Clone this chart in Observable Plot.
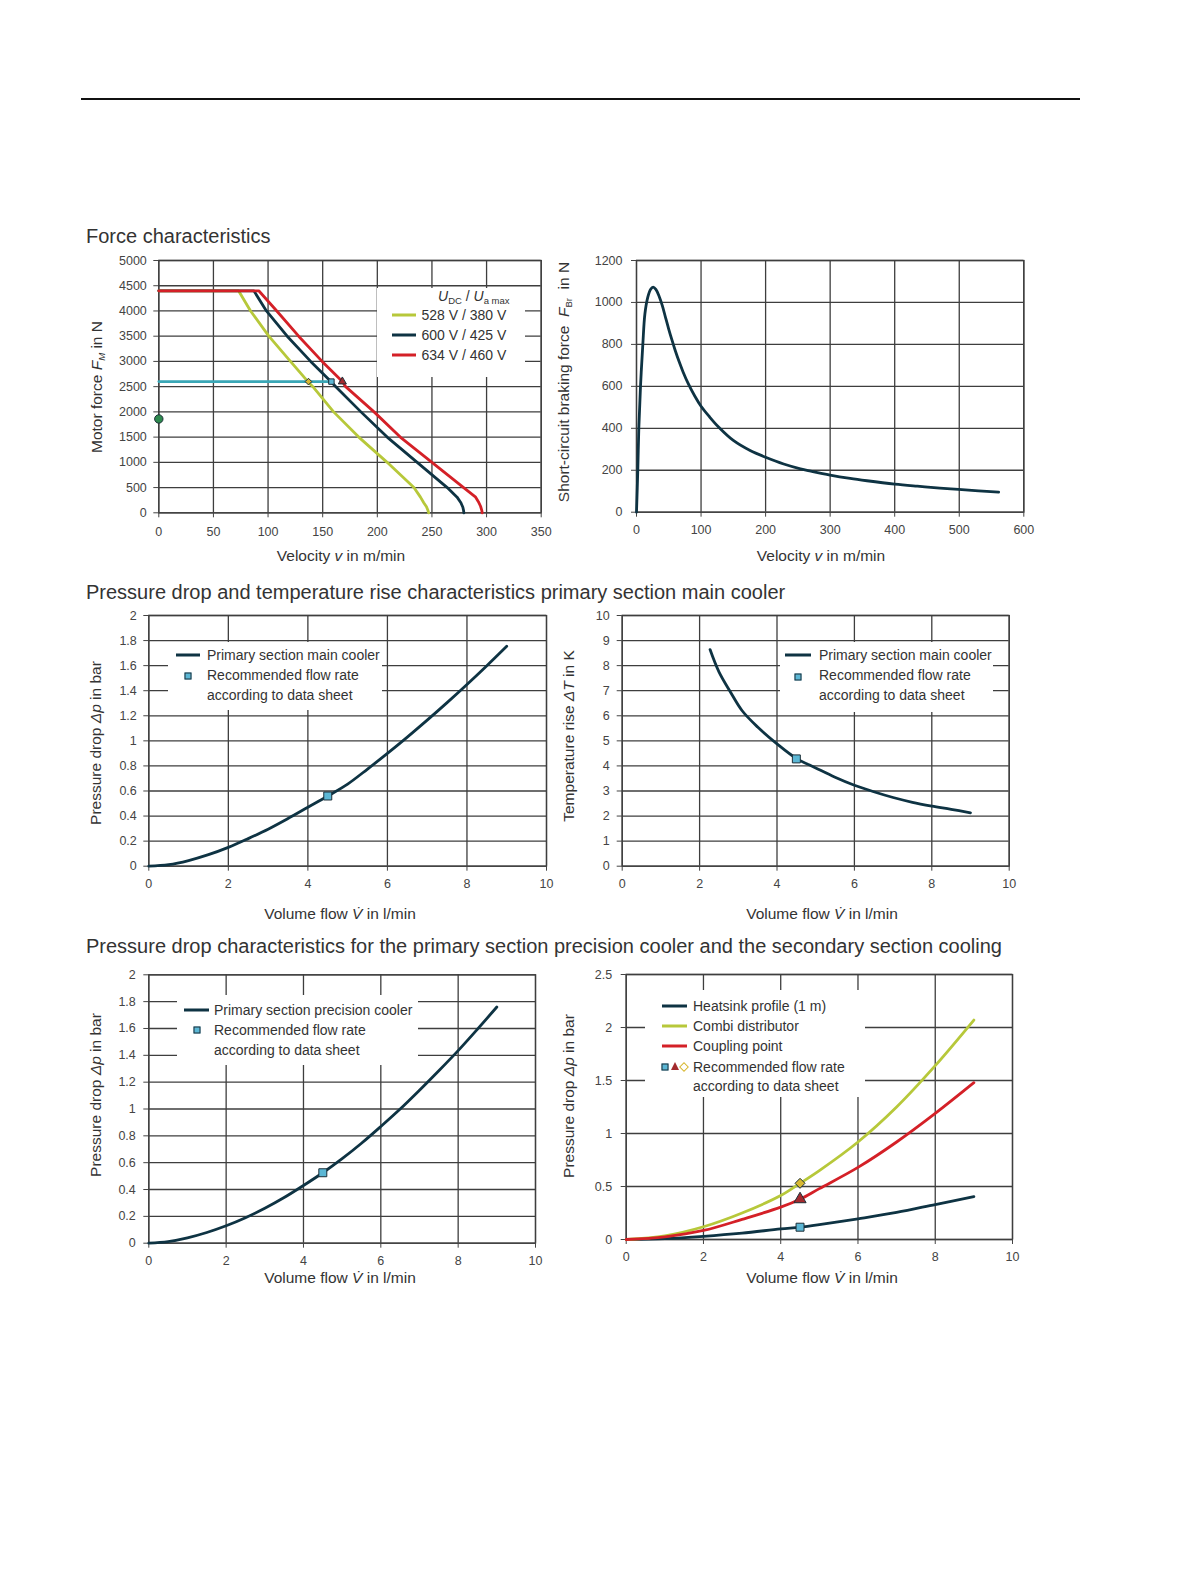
<!DOCTYPE html>
<html><head><meta charset="utf-8">
<script src="https://cdn.jsdelivr.net/npm/d3@7"></script>
<script src="https://cdn.jsdelivr.net/npm/@observablehq/plot@0.6"></script>
<style>
body{margin:0;background:#fff;}
#page{position:relative;width:1191px;height:1587px;background:#fff;font-family:"Liberation Sans",Arial,sans-serif;color:#333;overflow:hidden;}
.title{position:absolute;font-size:20px;color:#333;white-space:nowrap;line-height:20px;}
.xl{position:absolute;font-size:15.5px;transform:translate(-50%,-50%);white-space:nowrap;line-height:1;color:#333;}
.yl{position:absolute;font-size:15.5px;transform:translate(-50%,-50%) rotate(-90deg);white-space:nowrap;line-height:1;color:#333;}
.sub{font-size:9.5px;position:relative;top:3px;}
.legend{position:absolute;background:#fff;}
.li{position:absolute;font-size:14px;white-space:nowrap;line-height:1;transform:translateY(-50%);color:#333;}
.sw{position:absolute;height:3px;transform:translateY(-50%);}
.mk{position:absolute;transform:translate(-50%,-50%);}
</style></head><body><div id="page"></div>
<script>
// ---------- Data ----------
// Force characteristics (velocity m/min, force N)
const v528 = [0, 73, 84, 100.7, 120.5, 136.5, 141, 160, 183, 209, 233.5, 239.5, 242.5, 245, 246.3, 247];
const f528 = [4400, 4400, 4000, 3500, 3000, 2600, 2500, 2000, 1500, 1000, 500, 310, 200, 120, 50, 0];
const v600 = [0, 87, 98.5, 117.5, 139, 157.5, 162, 185, 209, 236.5, 264, 273, 276.5, 278.3, 279, 279.2];
const f600 = [4400, 4400, 4000, 3500, 3000, 2600, 2500, 2000, 1500, 1000, 500, 310, 200, 110, 40, 0];
const v634 = [0, 91.5, 108, 128, 149.5, 168, 171, 197, 221, 250, 279, 290, 292.5, 294.5, 295.6, 296];
const f634 = [4400, 4400, 4000, 3500, 3000, 2600, 2500, 2000, 1500, 1000, 500, 310, 220, 130, 50, 0];
const ratedV = [0, 158];
const ratedF = [2600, 2600];
const pointV = [137, 158, 168];
const pointF = [2600, 2600, 2600];
const standstillV = [0];
const standstillF = [1860];
const forceTicksX = [0, 50, 100, 150, 200, 250, 300, 350];
const forceTicksY = [0, 500, 1000, 1500, 2000, 2500, 3000, 3500, 4000, 4500, 5000];

// Short-circuit braking force
const brakeV = [0, 2, 3.6, 6.2, 9.8, 13, 17.5, 21.7, 25.8, 30, 35, 40, 45, 50, 55, 60, 66, 72, 80, 90, 100, 113, 127.5, 150, 176, 200, 228, 254, 270, 300, 331, 357, 400, 435, 470, 499, 530, 561];
const brakeF = [0, 200, 400, 600, 800, 945, 1025, 1062, 1073, 1062, 1030, 985, 928, 872, 820, 771, 718, 670, 614, 555, 505, 455, 405, 342, 294, 262, 230, 207, 196, 177, 161, 150, 134, 124, 115, 109, 102, 96];
const brakeTicksX = [0, 100, 200, 300, 400, 500, 600];
const brakeTicksY = [0, 200, 400, 600, 800, 1000, 1200];

// Primary section main cooler
const mainFlow = [0, 0.5, 1, 1.5, 2, 2.5, 3, 3.5, 4, 4.5, 5, 5.5, 6, 6.5, 7, 7.5, 8, 8.5, 9];
const mainDp = [0, 0.012, 0.045, 0.092, 0.15, 0.22, 0.295, 0.38, 0.47, 0.56, 0.655, 0.775, 0.9, 1.03, 1.165, 1.305, 1.45, 1.6, 1.755];
const mainDpRec = [4.5, 0.56];
const tempFlow = [2.27, 2.5, 2.8, 3.1, 3.5, 4, 4.5, 5, 5.5, 6, 6.5, 7, 7.5, 8, 8.5, 9];
const tempRise = [8.64, 7.75, 6.94, 6.2, 5.55, 4.88, 4.3, 3.92, 3.55, 3.23, 2.97, 2.74, 2.55, 2.4, 2.27, 2.13];
const tempRec = [4.5, 4.28];

// Precision cooler
const precFlow = [0, 0.5, 1, 1.5, 2, 2.5, 3, 3.5, 4, 4.5, 5, 5.5, 6, 6.5, 7, 7.5, 8, 8.5, 9];
const precDp = [0, 0.012, 0.04, 0.08, 0.13, 0.19, 0.26, 0.34, 0.43, 0.525, 0.63, 0.745, 0.87, 1.0, 1.14, 1.285, 1.435, 1.595, 1.76];
const precRec = [4.5, 0.525];

// Secondary section cooling
const secFlow = [0, 1, 2, 3, 4, 4.5, 5, 6, 7, 8, 9];
const heatsinkDp = [0, 0.008, 0.03, 0.06, 0.1, 0.116, 0.14, 0.195, 0.255, 0.33, 0.405];
const combiDp = [0, 0.035, 0.12, 0.25, 0.415, 0.53, 0.65, 0.92, 1.25, 1.64, 2.07];
const couplingDp = [0, 0.025, 0.085, 0.19, 0.305, 0.38, 0.48, 0.68, 0.92, 1.19, 1.48];

const flowTicks = [0, 2, 4, 6, 8, 10];
const dpTicks = [0, 0.2, 0.4, 0.6, 0.8, 1, 1.2, 1.4, 1.6, 1.8, 2];
const dTTicks = [0, 1, 2, 3, 4, 5, 6, 7, 8, 9, 10];
const dp2Ticks = [0, 0.5, 1, 1.5, 2, 2.5];

// ---------- Styles ----------
const GRID = "#3e3e3e";
const DARK = "#0e3343";
const LIME = "#b7c83a";
const RED = "#d42027";
const BLUE = "#5bb7d5";
const TRI = "#a32a2e";
const GOLD = "#d8b832";
const TEAL = "#3aa7b6";
const GREEN = "#2e8a4e";
const fmt = d3.format("~g");
const page = document.getElementById("page");

function panel(o) {
  const svg = Plot.plot({
    width: o.w, height: o.h,
    marginLeft: o.ml, marginRight: o.mr, marginTop: o.mt, marginBottom: o.mb,
    style: {fontFamily: '"Liberation Sans", Arial, sans-serif', fontSize: "12.5px", color: "#444", background: "transparent", overflow: "visible"},
    x: {domain: o.xd},
    y: {domain: o.yd},
    marks: [
      Plot.gridX({ticks: o.xt, stroke: GRID, strokeOpacity: 1, strokeWidth: 1.3}),
      Plot.gridY({ticks: o.yt, stroke: GRID, strokeOpacity: 1, strokeWidth: 1.3}),
      Plot.frame({stroke: GRID, strokeWidth: 1.3}),
      Plot.axisX({ticks: o.xt, tickFormat: fmt, tickSize: 5, tickPadding: o.tpx, label: null}),
      Plot.axisY({ticks: o.yt, tickFormat: fmt, tickSize: 5, tickPadding: o.tpy, label: null}),
      ...o.marks
    ]
  });
  const d = document.createElement("div");
  d.style.cssText = `position:absolute;left:${o.left}px;top:${o.top}px;`;
  d.appendChild(svg);
  page.appendChild(d);
}
function html(cls, x, y, inner, extra) {
  const d = document.createElement("div");
  d.className = cls;
  d.style.left = x + "px"; d.style.top = y + "px";
  if (extra) d.style.cssText += extra;
  d.innerHTML = inner;
  page.appendChild(d);
  return d;
}
const line = (xs, ys, color, curve) => Plot.line(ys, {x: xs, y: ys, stroke: color, strokeWidth: 2.8, curve: curve || "catmull-rom"});
const dot = (x, y, symbol, fill, r) => Plot.dot([0], {x: [x], y: [y], symbol, fill, stroke: "#1d2f38", strokeWidth: 1, r});

// top rule
html("", 81, 98, "", "position:absolute;width:999px;height:1.5px;background:#111;");

// titles
html("title", 86, 226, "Force characteristics");
html("title", 86, 582, "Pressure drop and temperature rise characteristics primary section main cooler");
html("title", 86, 936, "Pressure drop characteristics for the primary section precision cooler and the secondary section cooling");

// Panel 1
panel({left: 100, top: 250, w: 460, h: 300, ml: 58.3, mr: 19.3, mt: 10, mb: 37.7,
  xd: [0, 350], yd: [0, 5000], xt: forceTicksX, yt: forceTicksY, tpx: 9, tpy: 7,
  marks: [
    line(v528, f528, LIME, "linear"),
    line(v600, f600, DARK, "linear"),
    line(v634, f634, RED, "linear"),
    Plot.line(ratedF, {x: ratedV, y: ratedF, stroke: TEAL, strokeWidth: 2.6}),
    Plot.dot(pointF, {x: pointV, y: pointF, symbol: ["diamond2", "square", "triangle"], fill: [GOLD, BLUE, TRI], stroke: "#1d2f38", strokeWidth: 1, r: [4.8, 5, 4.8]}),
    Plot.dot(standstillF, {x: standstillV, y: standstillF, fill: GREEN, stroke: "#1d2f38", strokeWidth: 1, r: 4.2})
  ]});
html("legend", 377, 288, "", "width:148px;height:89px;");
html("li", 438, 296, '<i>U</i><span class="sub">DC</span> / <i>U</i><span class="sub">a max</span>');
[[LIME, "528 V / 380 V", 315], [DARK, "600 V / 425 V", 335], [RED, "634 V / 460 V", 355]].forEach(([c, t, y]) => {
  html("sw", 392, y, "", `width:24px;background:${c};`);
  html("li", 421.5, y, t);
});
html("xl", 341, 556, "Velocity <i>v</i> in m/min");
html("yl", 97, 387, 'Motor force <i>F</i><span class="sub"><i>M</i></span> in N');

// Panel 2
panel({left: 580, top: 250, w: 470, h: 300, ml: 56, mr: 26.7, mt: 10, mb: 38.3,
  xd: [0, 600], yd: [0, 1200], xt: brakeTicksX, yt: brakeTicksY, tpx: 8, tpy: 9,
  marks: [line(brakeV, brakeF, DARK)]});
html("xl", 821, 556, "Velocity <i>v</i> in m/min");
html("yl", 564, 382, 'Short-circuit braking force&nbsp; <i>F</i><span class="sub">Br</span>&nbsp; in N');

// Panel 3
panel({left: 100, top: 600, w: 460, h: 300, ml: 48.3, mr: 14, mt: 15, mb: 34.3,
  xd: [0, 10], yd: [0, 2], xt: flowTicks, yt: dpTicks, tpx: 7.5, tpy: 7,
  marks: [line(mainFlow, mainDp, DARK), dot(mainDpRec[0], mainDpRec[1], "square", BLUE, 4.5)]});
html("legend", 168, 642, "", "width:214px;height:68px;");
html("sw", 176, 655, "", `width:24px;background:${DARK};`);
html("mk", 188, 676, "", `width:5px;height:5px;background:${BLUE};border:1px solid #1d2f38;`);
html("li", 207, 655, "Primary section main cooler");
html("li", 207, 675, "Recommended flow rate");
html("li", 207, 695, "according to data sheet");
html("xl", 340, 914, "Volume flow <i>V̇</i> in l/min");
html("yl", 96, 743, "Pressure drop <i>Δp</i> in bar");

// Panel 4
panel({left: 580, top: 600, w: 450, h: 300, ml: 41.7, mr: 21.3, mt: 15, mb: 34.3,
  xd: [0, 10], yd: [0, 10], xt: flowTicks, yt: dTTicks, tpx: 8, tpy: 7.5,
  marks: [line(tempFlow, tempRise, DARK), dot(tempRec[0], tempRec[1], "square", BLUE, 4.5)]});
html("legend", 780, 642, "", "width:213px;height:70px;");
html("sw", 785, 655, "", `width:26px;background:${DARK};`);
html("mk", 798, 677, "", `width:5px;height:5px;background:${BLUE};border:1px solid #1d2f38;`);
html("li", 819, 655, "Primary section main cooler");
html("li", 819, 675, "Recommended flow rate");
html("li", 819, 695, "according to data sheet");
html("xl", 822, 914, "Volume flow <i>V̇</i> in l/min");
html("yl", 569, 736, "Temperature rise <i>ΔT</i> in K");

// Panel 5
panel({left: 100, top: 960, w: 450, h: 320, ml: 48.3, mr: 15, mt: 14.3, mb: 37.3,
  xd: [0, 10], yd: [0, 2], xt: flowTicks, yt: dpTicks, tpx: 8, tpy: 8,
  marks: [line(precFlow, precDp, DARK), dot(precRec[0], precRec[1], "square", BLUE, 4.5)]});
html("legend", 177, 995, "", "width:241px;height:70px;");
html("sw", 184, 1010, "", `width:25px;background:${DARK};`);
html("mk", 197, 1030, "", `width:5px;height:5px;background:${BLUE};border:1px solid #1d2f38;`);
html("li", 214, 1010, "Primary section precision cooler");
html("li", 214, 1030, "Recommended flow rate");
html("li", 214, 1050, "according to data sheet");
html("xl", 340, 1278, "Volume flow <i>V̇</i> in l/min");
html("yl", 96, 1095, "Pressure drop <i>Δp</i> in bar");

// Panel 6
panel({left: 580, top: 960, w: 450, h: 320, ml: 45.7, mr: 18, mt: 14, mb: 41,
  xd: [0, 10], yd: [0, 2.5], xt: flowTicks, yt: dp2Ticks, tpx: 7.5, tpy: 9,
  marks: [
    line(secFlow, heatsinkDp, DARK),
    line(secFlow, combiDp, LIME),
    line(secFlow, couplingDp, RED),
    dot(4.5, heatsinkDp[5], "square", BLUE, 4.5),
    dot(4.5, couplingDp[5], "triangle", TRI, 4.5),
    dot(4.5, combiDp[5], "diamond2", GOLD, 4.5)
  ]});
html("legend", 645, 990, "", "width:220px;height:107px;");
[[DARK, "Heatsink profile (1 m)", 1006], [LIME, "Combi distributor", 1026], [RED, "Coupling point", 1046]].forEach(([c, t, y]) => {
  html("sw", 662, y, "", `width:25px;background:${c};`);
  html("li", 693, y, t);
});
html("mk", 665, 1067, "", `width:5px;height:5px;background:${BLUE};border:1px solid #1d2f38;`);
html("mk", 674.5, 1066, "", `width:0;height:0;border-left:4px solid transparent;border-right:4px solid transparent;border-bottom:8px solid ${TRI};`);
html("mk", 684, 1067, "", `width:5px;height:5px;background:#fff;border:1.5px solid ${GOLD};transform:translate(-50%,-50%) rotate(45deg);`);
html("li", 693, 1067, "Recommended flow rate");
html("li", 693, 1086, "according to data sheet");
html("xl", 822, 1278, "Volume flow <i>V̇</i> in l/min");
html("yl", 569, 1096, "Pressure drop <i>Δp</i> in bar");
</script></body></html>
